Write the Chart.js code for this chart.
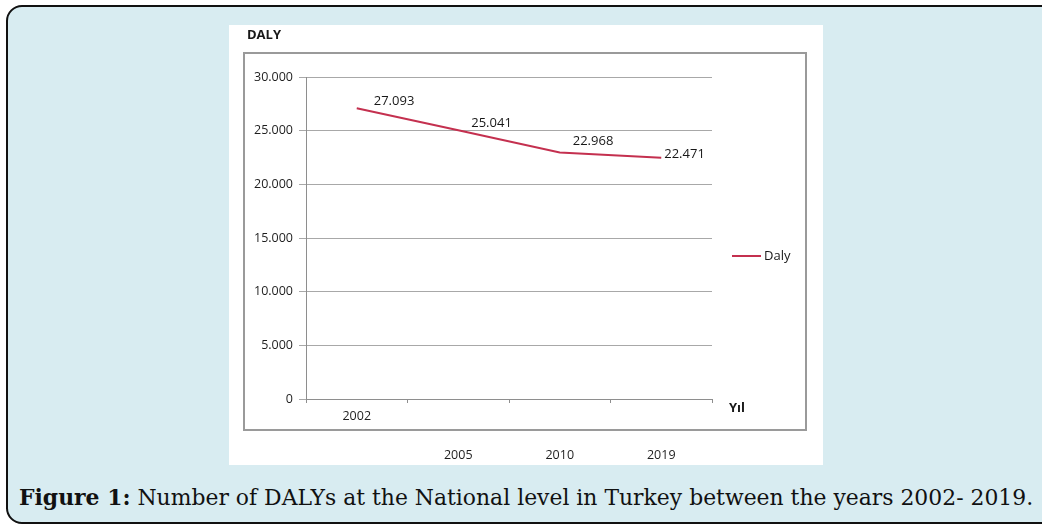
<!DOCTYPE html>
<html>
<head>
<meta charset="utf-8">
<script src="https://cdn.jsdelivr.net/npm/chart.js@4.4.0/dist/chart.umd.min.js"></script>
<style>
  html, body { margin: 0; padding: 0; width: 1042px; height: 525px; overflow: hidden; background: #fff; }
  #panel {
    position: absolute; left: 6px; top: 5px; width: 1070px; height: 519px;
    background: #d8ecf1; border: 2px solid #111; border-radius: 16px; box-sizing: border-box;
  }
  #figure { position: absolute; left: 229px; top: 25px; width: 594px; height: 440px; background: #fff; }
  #frame {
    position: absolute; left: 14px; top: 27px; width: 564px; height: 379px;
    border: 2px solid #9a9a9a; box-sizing: border-box;
  }
  #chart { position: absolute; left: 0; top: 0; }
  #caption {
    position: absolute; left: 19px; top: 484px; white-space: nowrap;
    font-family: "DejaVu Serif"; font-size: 21.9px; line-height: 26px; color: #111;
  }
</style>
</head>
<body>
<div id="panel"></div>
<div id="figure">
  <div id="frame"></div>
  <canvas id="chart" width="594" height="440"></canvas>
</div>
<div id="caption"><b>Figure 1:</b> Number of DALYs at the National level in Turkey between the years 2002- 2019.</div>

<script>
const years = ["2002", "2005", "2010", "2019"];
const dalyValues = [27093, 25041, 22968, 22471];
const yMin = 0;
const yMax = 30000;
const yStep = 5000;

// turkish style thousands: 27.093
function fmt(v) {
  return String(v).replace(/\B(?=(\d{3})+(?!\d))/g, ".");
}

const FONT = "'Open Sans', sans-serif";
const LINE_COLOR = "#c4304f";

const decorations = {
  id: "decorations",
  afterDatasetsDraw(chart, args, opts) {
    const { ctx, chartArea } = chart;
    const ds = chart.data.datasets[0];
    const meta = chart.getDatasetMeta(0);

    ctx.save();
    ctx.textBaseline = "middle";
    ctx.textAlign = "left";
    ctx.fillStyle = "#181818";

    // value labels next to the points
    ctx.font = "13px " + FONT;
    meta.data.forEach((pt, i) => {
      const off = opts.labelOffsets[i] || [6, -8];
      ctx.fillText(fmt(ds.data[i]), pt.x + off[0], pt.y + off[1]);
    });

    // axis titles
    ctx.font = "bold 13px " + FONT;
    ctx.fillText(chart.options.scales.y.title.text, chartArea.left - 59, chartArea.top - 42);
    ctx.fillText(chart.options.scales.x.title.text, chartArea.right + 17, chartArea.bottom + 9);

    // legend
    const ly = chartArea.top + 179;
    ctx.strokeStyle = ds.borderColor;
    ctx.lineWidth = 2;
    ctx.beginPath();
    ctx.moveTo(chartArea.right + 20, ly);
    ctx.lineTo(chartArea.right + 49, ly);
    ctx.stroke();
    ctx.font = "13px " + FONT;
    ctx.fillText(ds.label, chartArea.right + 52, ly);
    ctx.restore();
  }
};

new Chart(document.getElementById("chart"), {
  type: "line",
  data: {
    labels: years,
    datasets: [
      {
        label: "Daly",
        data: dalyValues,
        borderColor: LINE_COLOR,
        borderWidth: 2,
        pointRadius: 0,
        tension: 0,
        fill: false
      }
    ]
  },
  options: {
    responsive: false,
    animation: false,
    layout: { padding: { top: 52, right: 111, left: 0, bottom: 0 } },
    plugins: {
      legend: { display: false },
      tooltip: { enabled: false },
      decorations: { labelOffsets: [[17, -7], [13, -7], [13, -11], [3, -4]] }
    },
    scales: {
      x: {
        offset: true,
        title: { display: false, text: "Yıl" },
        grid: { offset: true, drawOnChartArea: false, tickLength: 4, color: "#8e8e8e" },
        border: { color: "#8e8e8e" },
        ticks: {
          padding: 7,
          color: "#1e1e1e",
          font: { family: FONT, size: 12.5, lineHeight: "13px" },
          // first label sits right under the axis, the others drop below the frame
          callback(value, index) {
            const label = this.getLabelForValue(value);
            return index === 0 ? label : ["", "", "", label];
          }
        },
        afterFit(scale) {
          scale.height = 66;
        }
      },
      y: {
        min: yMin,
        max: yMax,
        title: { display: false, text: "DALY" },
        grid: { color: "#a8a8a8", tickLength: 7 },
        border: { color: "#8e8e8e" },
        ticks: {
          stepSize: yStep,
          padding: 6,
          color: "#1e1e1e",
          font: { family: FONT, size: 12.5 },
          callback: v => fmt(v)
        },
        afterFit(scale) {
          scale.width = 77;
        }
      }
    }
  },
  plugins: [decorations]
});
</script>
</body>
</html>
